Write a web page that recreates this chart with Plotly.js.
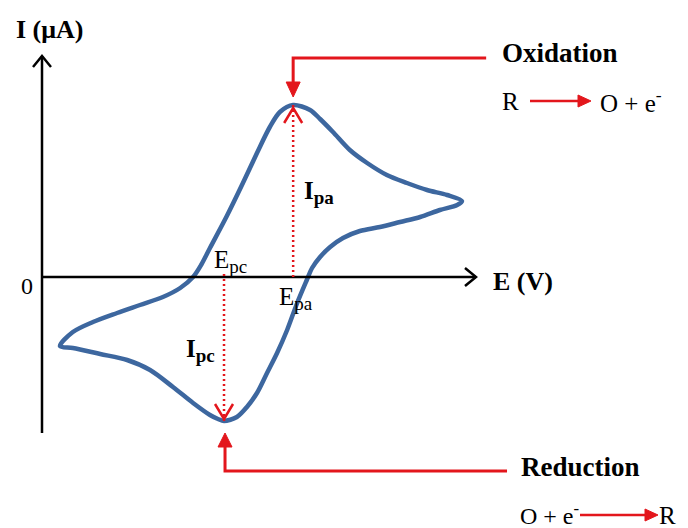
<!DOCTYPE html>
<html>
<head>
<meta charset="utf-8">
<script src="https://cdn.plot.ly/plotly-3.0.1.min.js"></script>
<style>
  html, body { margin: 0; padding: 0; background: #fff; }
</style>
</head>
<body>
<div id="cv"></div>
<script>
// forward (anodic) sweep, E in V, I in uA
var E_FWD = [-0.200, -0.168, -0.118, -0.058, -0.001, 0.056, 0.099, 0.131, 0.151, 0.173, 0.215, 0.255, 0.290,
             0.322, 0.347, 0.380, 0.422, 0.447, 0.479, 0.521, 0.564, 0.613, 0.663, 0.713, 0.763, 0.800];
var I_FWD = [-6.9, -5.5, -4.5, -3.6, -2.8, -2.0, -1.1, 0.0, 1.2, 2.9, 6.1, 9.4, 12.4,
             15.0, 16.5, 17.2, 16.7, 15.8, 14.5, 12.7, 11.4, 10.2, 9.4, 8.7, 8.2, 7.6];

// reverse (cathodic) sweep
var E_REV = [0.788, 0.745, 0.696, 0.646, 0.596, 0.546, 0.504, 0.472, 0.447, 0.427, 0.414, 0.390, 0.365, 0.340,
             0.315, 0.290, 0.265, 0.240, 0.208, 0.193, 0.173, 0.131, 0.081, 0.024, -0.033, -0.100, -0.168, -0.200];
var I_REV = [7.2, 6.7, 6.0, 5.5, 5.0, 4.6, 3.9, 3.0, 2.0, 0.9, -0.3, -2.6, -5.3, -7.6,
             -9.6, -11.6, -13.0, -14.0, -14.4, -14.2, -13.8, -12.6, -11.0, -9.3, -8.3, -7.7, -7.1, -6.9];

var RED = '#e3161c';
var BLUE = '#3d679f';
var SERIF = 'Liberation Serif, Times New Roman, serif';

// page pixel -> axis units (plot area fills the whole page)
function ex(px) { return -0.2 + (px - 60) / 402; }
function iy(py) { return (277 - py) / 10; }

// peaks read from the data
var kA = I_FWD.indexOf(Math.max.apply(null, I_FWD));
var Epa = E_FWD[kA], Ipa = I_FWD[kA];
var kC = I_REV.indexOf(Math.min.apply(null, I_REV));
var Epc = E_REV[kC], Ipc = I_REV[kC];

var trace = {
    x: E_FWD.concat(E_REV),
    y: I_FWD.concat(I_REV),
    mode: 'lines',
    type: 'scatter',
    line: { color: BLUE, width: 4.5, shape: 'spline', smoothing: 0.85 },
    hoverinfo: 'skip'
};

function pixPath(xa, ya, path, color, width, fill) {
    return {
        type: 'path', xref: 'x', yref: 'y',
        xsizemode: 'pixel', ysizemode: 'pixel',
        xanchor: xa, yanchor: ya, path: path,
        line: { color: color, width: width },
        fillcolor: fill || 'rgba(0,0,0,0)'
    };
}

var shapes = [
    // axes
    { type: 'line', x0: ex(42), x1: ex(476), y0: 0, y1: 0, line: { color: '#000', width: 2.5 } },
    { type: 'line', x0: ex(42), x1: ex(42), y0: iy(433), y1: iy(56), line: { color: '#000', width: 2.5 } },
    pixPath(ex(42), iy(56), 'M-9,-11 L0,0 L9,-11', '#000', 2.5),
    pixPath(ex(476), 0, 'M-11,9 L0,0 L-11,-9', '#000', 2.5),
    // peak current markers
    { type: 'line', x0: Epa, x1: Epa, y0: 0, y1: Ipa, line: { color: RED, width: 2.5, dash: '2px,3px' } },
    { type: 'line', x0: Epc, x1: Epc, y0: 0.3, y1: Ipc, line: { color: RED, width: 2.5, dash: '2px,3px' } },
    pixPath(Epa, Ipa, 'M-9,-18 L0,-3 L9,-18', RED, 2.5),
    pixPath(Epc, Ipc, 'M-9,17 L0,2 L9,17', RED, 2.5),
    // oxidation callout
    pixPath(Epa, Ipa, 'M193,47 L0,47 L0,20', RED, 3),
    pixPath(Epa, Ipa, 'M-7,23 L7,23 L0,8 Z', RED, 1, RED),
    // reduction callout
    pixPath(Epc, Ipc, 'M283,-50 L1,-50 L1,-24', RED, 3),
    pixPath(Epc, Ipc, 'M-6,-26 L8,-26 L1,-12 Z', RED, 1, RED),
    // reaction arrows
    { type: 'line', x0: ex(530), x1: ex(580), y0: iy(101), y1: iy(101), line: { color: RED, width: 2.5 } },
    pixPath(ex(591), iy(101), 'M-13,-6 L0,0 L-13,6 Z', RED, 1, RED),
    { type: 'line', x0: ex(580), x1: ex(646), y0: iy(515), y1: iy(515), line: { color: RED, width: 2.5 } },
    pixPath(ex(658), iy(515), 'M-13,-6 L0,0 L-13,6 Z', RED, 1, RED)
];

function label(px, py, text, size) {
    return {
        x: ex(px), y: iy(py), xref: 'x', yref: 'y',
        text: text, showarrow: false,
        xanchor: 'left', yanchor: 'middle',
        font: { family: SERIF, size: size, color: '#000' }
    };
}

var annotations = [
    label(14, 29, '<b>I (μA)</b>', 26),
    label(491, 281, '<b>E (V)</b>', 26),
    label(19, 286, '0', 24),
    label(500, 53, '<b>Oxidation</b>', 27),
    label(500, 101, 'R', 25),
    label(598, 101, 'O + e<sup>-</sup>', 25),
    label(519, 467, '<b>Reduction</b>', 27),
    label(518, 514, 'O + e<sup>-</sup>', 24),
    label(657, 515, 'R', 25),
    label(212, 261, 'E<sub><span style="font-size:19px">pc</span></sub>', 25),
    label(277, 298, 'E<sub><span style="font-size:19px">pa</span></sub>', 25),
    label(302, 192, '<b>I<sub><span style="font-size:19px">pa</span></sub></b>', 25),
    label(184, 350, '<b>I<sub><span style="font-size:19px">pc</span></sub></b>', 25)
];

var layout = {
    width: 688,
    height: 528,
    margin: { l: 0, r: 0, t: 0, b: 0 },
    paper_bgcolor: '#fff',
    plot_bgcolor: '#fff',
    showlegend: false,
    xaxis: { range: [ex(0), ex(688)], visible: false, fixedrange: true },
    yaxis: { range: [iy(528), iy(0)], visible: false, fixedrange: true },
    shapes: shapes,
    annotations: annotations
};

Plotly.newPlot('cv', [trace], layout, { displayModeBar: false, staticPlot: true });
</script>
</body>
</html>
